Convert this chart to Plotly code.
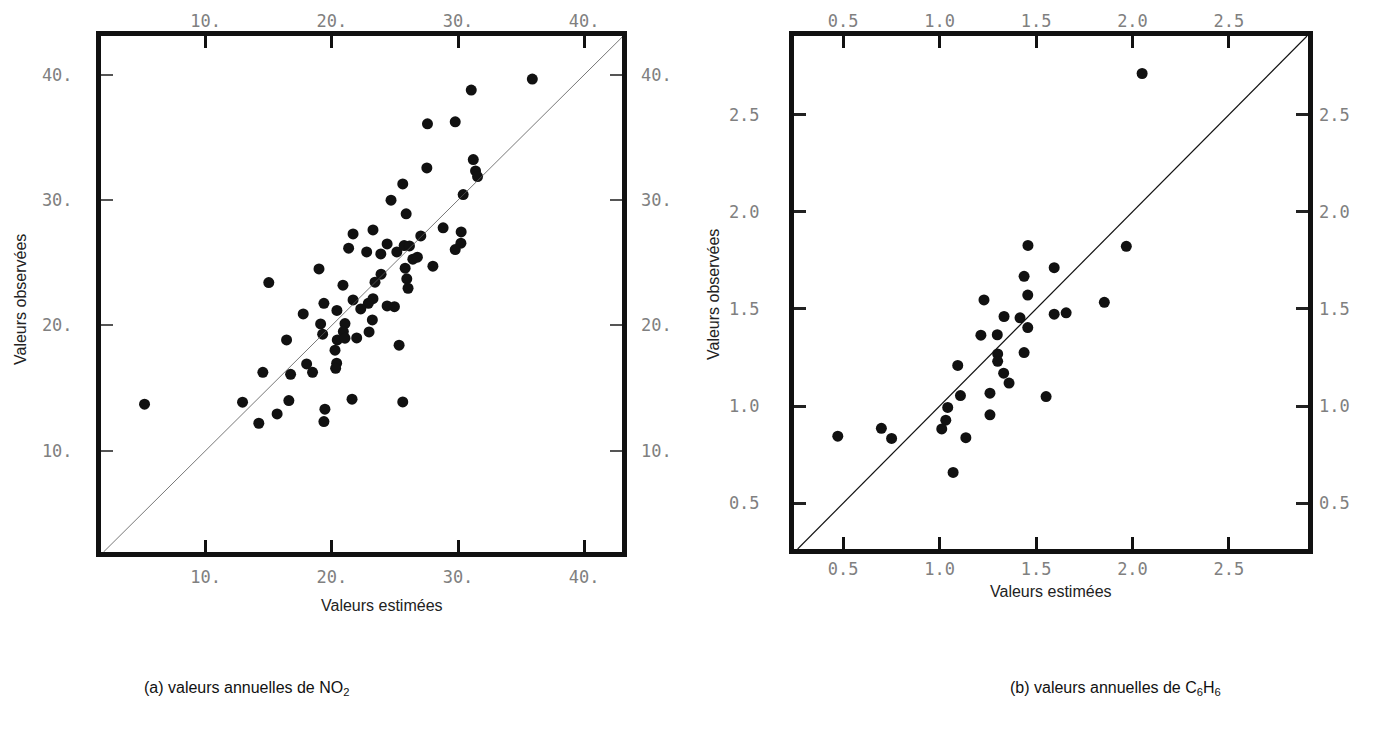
import plotly.graph_objects as go

# ---------------- data ----------------
# (a) NO2 annual values: estimated (x) vs observed (y)
no2_est = [35.89, 31.05, 27.58, 29.78, 31.21, 27.53, 31.39, 31.55, 25.62, 30.41,
           24.69, 25.89, 27.05, 28.82, 30.25, 23.26, 21.68, 21.33, 22.76, 24.38,
           23.88, 25.15, 25.73, 26.15, 30.23, 29.78, 26.42, 26.78, 28.01, 25.81,
           18.98, 15.00, 20.88, 23.90, 23.42, 25.94, 26.04, 19.37, 21.68, 23.26,
           22.89, 24.38, 24.96, 22.29, 20.40, 17.73, 19.11, 21.04, 23.21, 22.95,
           20.91, 19.27, 20.43, 21.04, 21.97, 16.41, 20.25, 25.33, 14.53, 16.73,
           18.00, 18.47, 20.38, 20.30, 16.59, 21.60, 25.62, 15.66, 14.21, 19.45,
           19.37, 5.15, 12.92]
no2_obs = [39.66, 38.78, 36.09, 36.25, 33.23, 32.57, 32.33, 31.88, 31.29, 30.44,
           29.99, 28.90, 27.14, 27.78, 27.46, 27.62, 27.30, 26.16, 25.86, 26.50,
           25.70, 25.86, 26.37, 26.34, 26.56, 26.05, 25.28, 25.44, 24.72, 24.56,
           24.50, 23.41, 23.20, 24.08, 23.44, 23.71, 22.96, 21.76, 22.03, 22.13,
           21.76, 21.55, 21.49, 21.31, 21.19, 20.91, 20.11, 20.14, 20.43, 19.47,
           19.50, 19.29, 18.83, 18.97, 18.99, 18.83, 18.01, 18.41, 16.25, 16.09,
           16.92, 16.25, 16.97, 16.57, 13.99, 14.10, 13.88, 12.92, 12.18, 13.30,
           12.31, 13.70, 13.86]

# (b) C6H6 annual values: estimated (x) vs observed (y)
c6h6_est = [1.458, 1.594, 1.438, 1.457, 1.230, 1.334, 1.417, 1.594, 1.656, 1.457,
            1.214, 1.299, 1.301, 1.301, 1.438, 1.094, 1.332, 1.360, 1.108, 1.261,
            1.552, 1.042, 1.032, 1.011, 1.136, 1.261, 1.070, 0.472, 0.698, 0.751,
            2.050, 1.968, 1.854]
c6h6_obs = [1.827, 1.712, 1.668, 1.571, 1.546, 1.461, 1.454, 1.473, 1.480, 1.404,
            1.365, 1.367, 1.268, 1.230, 1.275, 1.209, 1.169, 1.118, 1.054, 1.066,
            1.049, 0.993, 0.927, 0.882, 0.837, 0.955, 0.658, 0.845, 0.885, 0.833,
            2.712, 1.822, 1.534]

# axis ranges and ticks
no2_xrange = [1.7, 43.0]
no2_yrange = [1.9, 43.1]
no2_ticks = [10, 20, 30, 40]
no2_ticktext = ["10.", "20.", "30.", "40."]

c6h6_xrange = [0.245, 2.91]
c6h6_yrange = [0.264, 2.905]
c6h6_ticks = [0.5, 1.0, 1.5, 2.0, 2.5]
c6h6_ticktext = ["0.5", "1.0", "1.5", "2.0", "2.5"]

axis_title = "Valeurs estimées"
yaxis_title = "Valeurs observées"
caption_a = "(a) valeurs annuelles de NO<sub>2</sub>"
caption_b = "(b) valeurs annuelles de C<sub>6</sub>H<sub>6</sub>"

# ---------------- figure ----------------
W, H = 1377, 729
fig = go.Figure()

marker = dict(color="#111111", size=11, line=dict(width=0))

fig.add_trace(go.Scatter(x=no2_est, y=no2_obs, mode="markers", marker=marker,
                         xaxis="x", yaxis="y", showlegend=False, hoverinfo="x+y"))
fig.add_trace(go.Scatter(x=c6h6_est, y=c6h6_obs, mode="markers", marker=marker,
                         xaxis="x2", yaxis="y2", showlegend=False, hoverinfo="x+y"))

# diagonal y = x lines (drawn on overlay axes sharing the same ranges)
d1 = [max(no2_xrange[0], no2_yrange[0]), min(no2_xrange[1], no2_yrange[1])]
d2 = [max(c6h6_xrange[0], c6h6_yrange[0]), min(c6h6_xrange[1], c6h6_yrange[1])]
fig.add_trace(go.Scatter(x=d1, y=d1, mode="lines", line=dict(color="#555555", width=0.8),
                         xaxis="x3", yaxis="y3", showlegend=False, hoverinfo="skip"))
fig.add_trace(go.Scatter(x=d2, y=d2, mode="lines", line=dict(color="#111111", width=1.2),
                         xaxis="x4", yaxis="y4", showlegend=False, hoverinfo="skip"))

tickfont = dict(family="DejaVu Sans Mono", size=17, color="#808080")

def frame_axis(domain, rng, tickvals, ticktext, anchor, tickw, tickc, standoff):
    return dict(domain=domain, range=rng, anchor=anchor,
                tickvals=tickvals, ticktext=ticktext, tickfont=tickfont,
                ticks="inside", ticklen=12, tickwidth=tickw, tickcolor=tickc,
                showline=True, linewidth=5, linecolor="#111111", mirror=True,
                showgrid=False, zeroline=False, ticklabelstandoff=standoff)

def overlay_axis(over, side, rng, tickvals, ticktext, anchor, tickw, tickc, standoff):
    return dict(overlaying=over, side=side, range=rng, anchor=anchor,
                tickvals=tickvals, ticktext=ticktext, tickfont=tickfont,
                ticks="inside", ticklen=12, tickwidth=tickw, tickcolor=tickc,
                showline=False, showgrid=False, zeroline=False, ticklabelstandoff=standoff)

xd1 = [101 / W, 622 / W]
yd1 = [1 - 552 / H, 1 - 36 / H]
xd2 = [794 / W, 1308 / W]
yd2 = [1 - 549 / H, 1 - 36 / H]

fig.update_layout(
    width=W, height=H,
    margin=dict(l=0, r=0, t=0, b=0),
    paper_bgcolor="white", plot_bgcolor="white",
    showlegend=False,
    xaxis=frame_axis(xd1, no2_xrange, no2_ticks, no2_ticktext, "y", 3, "#111111", 6),
    yaxis=frame_axis(yd1, no2_yrange, no2_ticks, no2_ticktext, "x", 1.5, "#555555", 20),
    xaxis3=overlay_axis("x", "top", no2_xrange, no2_ticks, no2_ticktext, "y", 3, "#111111", 5),
    yaxis3=overlay_axis("y", "right", no2_yrange, no2_ticks, no2_ticktext, "x", 1.5, "#555555", 18),
    xaxis2=frame_axis(xd2, c6h6_xrange, c6h6_ticks, c6h6_ticktext, "y2", 3, "#111111", 1),
    yaxis2=frame_axis(yd2, c6h6_yrange, c6h6_ticks, c6h6_ticktext, "x2", 2.5, "#222222", 26),
    xaxis4=overlay_axis("x2", "top", c6h6_xrange, c6h6_ticks, c6h6_ticktext, "y2", 3, "#111111", 5),
    yaxis4=overlay_axis("y2", "right", c6h6_yrange, c6h6_ticks, c6h6_ticktext, "x2", 2.5, "#222222", 10),
)

txt = dict(family="Liberation Sans, Arial, sans-serif", size=16, color="#222222")
cap = dict(family="Liberation Sans, Arial, sans-serif", size=16, color="#111111")

annotations = [
    dict(text=axis_title, x=382 / W, y=1 - 605 / H, xref="paper", yref="paper",
         showarrow=False, font=txt, xanchor="center", yanchor="middle"),
    dict(text=axis_title, x=1051 / W, y=1 - 591 / H, xref="paper", yref="paper",
         showarrow=False, font=txt, xanchor="center", yanchor="middle"),
    dict(text=yaxis_title, x=20 / W, y=1 - 300 / H, xref="paper", yref="paper",
         showarrow=False, font=txt, textangle=-90, xanchor="center", yanchor="middle"),
    dict(text=yaxis_title, x=713 / W, y=1 - 295 / H, xref="paper", yref="paper",
         showarrow=False, font=txt, textangle=-90, xanchor="center", yanchor="middle"),
    dict(text=caption_a, x=246 / W, y=1 - 688 / H, xref="paper", yref="paper",
         showarrow=False, font=cap, xanchor="center", yanchor="middle"),
    dict(text=caption_b, x=1115 / W, y=1 - 688 / H, xref="paper", yref="paper",
         showarrow=False, font=cap, xanchor="center", yanchor="middle"),
]
fig.update_layout(annotations=annotations)

fig.write_html("out.html", config={"displayModeBar": False},
               post_script="document.body.style.margin='0';")
